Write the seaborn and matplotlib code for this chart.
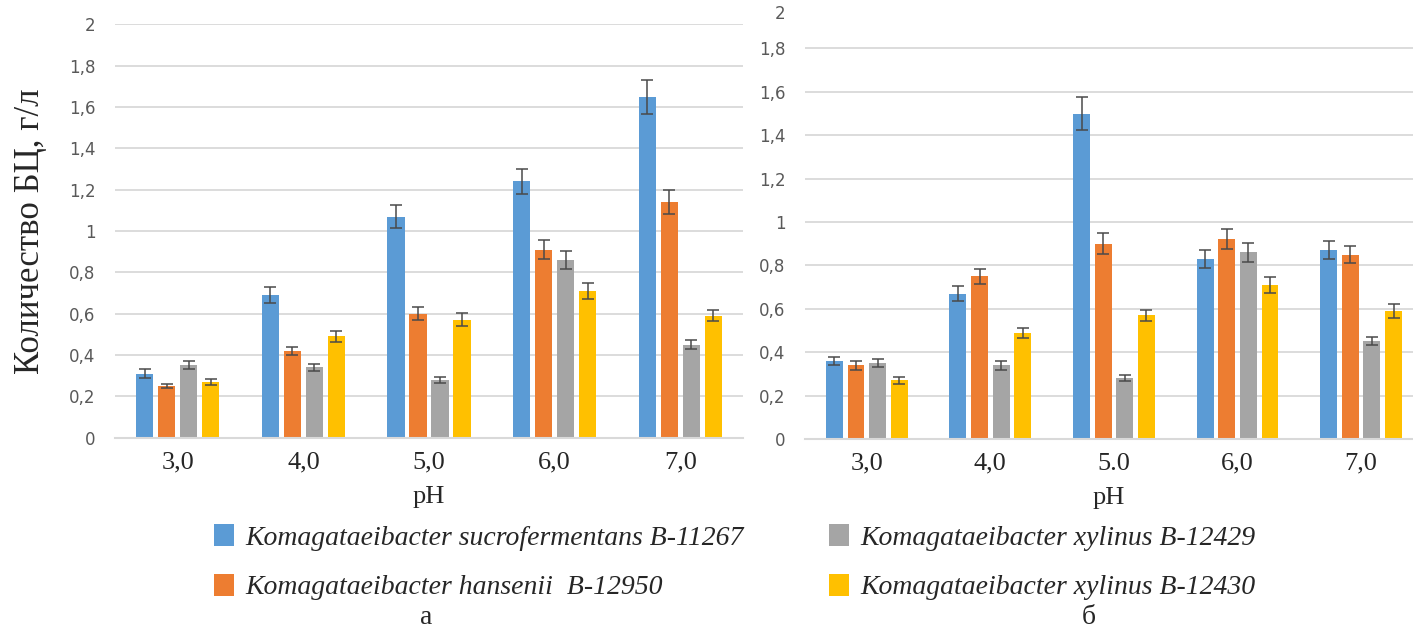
import matplotlib
matplotlib.use("Agg")
import matplotlib.pyplot as plt
import seaborn as sns
import pandas as pd
from matplotlib.patches import Patch

# ---------------- data ----------------
ph_labels_a = ["3,0", "4,0", "5,0", "6,0", "7,0"]
ph_labels_b = ["3,0", "4,0", "5.0", "6,0", "7,0"]
strains = [
    "Komagataeibacter sucrofermentans B-11267",
    "Komagataeibacter hansenii  B-12950",
    "Komagataeibacter xylinus B-12429",
    "Komagataeibacter xylinus B-12430",
]
colors = ["#5B9BD5", "#ED7D31", "#A5A5A5", "#FFC000"]

# panel а
a_suc = [0.31, 0.69, 1.07, 1.24, 1.65]
a_han = [0.25, 0.42, 0.60, 0.91, 1.14]
a_x29 = [0.35, 0.34, 0.28, 0.86, 0.45]
a_x30 = [0.27, 0.49, 0.57, 0.71, 0.59]
a_err_suc = [0.020, 0.038, 0.055, 0.060, 0.082]
a_err_han = [0.010, 0.020, 0.030, 0.045, 0.060]
a_err_x29 = [0.020, 0.018, 0.016, 0.043, 0.021]
a_err_x30 = [0.016, 0.026, 0.032, 0.039, 0.027]

# panel б
b_suc = [0.36, 0.67, 1.50, 0.83, 0.87]
b_han = [0.34, 0.75, 0.90, 0.92, 0.85]
b_x29 = [0.35, 0.34, 0.28, 0.86, 0.45]
b_x30 = [0.27, 0.49, 0.57, 0.71, 0.59]
b_err_suc = [0.020, 0.035, 0.078, 0.040, 0.042]
b_err_han = [0.020, 0.035, 0.048, 0.046, 0.040]
b_err_x29 = [0.020, 0.020, 0.015, 0.043, 0.018]
b_err_x30 = [0.015, 0.023, 0.025, 0.037, 0.032]

yticks = [0, 0.2, 0.4, 0.6, 0.8, 1.0, 1.2, 1.4, 1.6, 1.8, 2.0]
ytick_labels = ["0", "0,2", "0,4", "0,6", "0,8", "1", "1,2", "1,4", "1,6", "1,8", "2"]

# ---------------- style ----------------
sns.set_style("white")
plt.rcParams["font.family"] = ["DejaVu Sans"]
SERIF = "Liberation Serif"
GRID = "#D9D9D9"
TICKC = "#595959"

W, H = 1413, 632
fig = plt.figure(figsize=(W / 100, H / 100), dpi=100)


def long_df(labels, series):
    rows = []
    for s_name, vals in zip(strains, series):
        for lab, v in zip(labels, vals):
            rows.append({"pH": lab, "strain": s_name, "value": v})
    return pd.DataFrame(rows)


def panel(rect, labels, series, errs, xlim):
    ax = fig.add_axes(rect)
    df = long_df(labels, series)
    sns.barplot(data=df, x="pH", y="value", hue="strain", hue_order=strains,
                order=labels, palette=colors, saturation=1, width=0.7, gap=0.22,
                errorbar=None, linewidth=0, legend=False, ax=ax)
    for cont, e in zip(ax.containers, errs):
        xs = [p.get_x() + p.get_width() / 2 for p in cont]
        ys = [p.get_height() for p in cont]
        ax.errorbar(xs, ys, yerr=e, fmt="none", ecolor="#4A4A4A",
                    elinewidth=1.1, capsize=4.5, capthick=1.1, zorder=5)
    ax.set_ylim(0, 2.0)
    ax.set_xlim(*xlim)
    ax.set_yticks(yticks)
    ax.set_yticklabels(ytick_labels)
    ax.yaxis.grid(True, color=GRID, linewidth=1.3)
    ax.set_axisbelow(True)
    for sp in ["top", "right", "left"]:
        ax.spines[sp].set_visible(False)
    ax.spines["bottom"].set_color(GRID)
    ax.spines["bottom"].set_linewidth(1.5)
    ax.tick_params(axis="y", length=0, pad=14, labelsize=12, labelcolor=TICKC)
    ax.tick_params(axis="x", length=0, pad=10, labelsize=19)
    for t in ax.get_xticklabels():
        t.set_fontfamily(SERIF)
    ax.set_xlabel("pH", family=SERIF, fontsize=19, labelpad=9)
    ax.set_ylabel("")
    return ax


ax1 = panel([115 / W, 1 - 437.7 / H, 628 / W, 413.4 / H], ph_labels_a,
            [a_suc, a_han, a_x29, a_x30],
            [a_err_suc, a_err_han, a_err_x29, a_err_x30], (-0.5, 4.5))
ax1.set_ylabel("Количество БЦ, г/л", family=SERIF, fontsize=25, va="center")
ax1.yaxis.set_label_coords(-0.135, 0.5)

ax2 = panel([805 / W, 1 - 439 / H, 608 / W, 434 / H], ph_labels_b,
            [b_suc, b_han, b_x29, b_x30],
            [b_err_suc, b_err_han, b_err_x29, b_err_x30], (-0.5, 4.42))
ax2.yaxis.get_gridlines()[-1].set_visible(False)
ax2.get_yticklabels()[-1].set_va("top")

# legends
leg_font = {"family": SERIF, "style": "italic", "size": 20}
h = [Patch(facecolor=c, edgecolor="none") for c in colors]
leg_kw = dict(frameon=False, prop=leg_font, handlelength=0.72, handleheight=0.86,
              handletextpad=0.4, labelspacing=0.82, borderpad=0, borderaxespad=0,
              loc="upper left")
fig.legend(h[:2], strains[:2], bbox_to_anchor=(214 / W, 1 - 524 / H), **leg_kw)
fig.legend(h[2:], strains[2:], bbox_to_anchor=(829 / W, 1 - 524 / H), **leg_kw)

fig.text(426 / W, 1.5 / H, "а", family=SERIF, fontsize=20, ha="center", va="bottom")
fig.text(1089 / W, 1.5 / H, "б", family=SERIF, fontsize=20, ha="center", va="bottom")

fig.savefig("out.png", dpi=100)
